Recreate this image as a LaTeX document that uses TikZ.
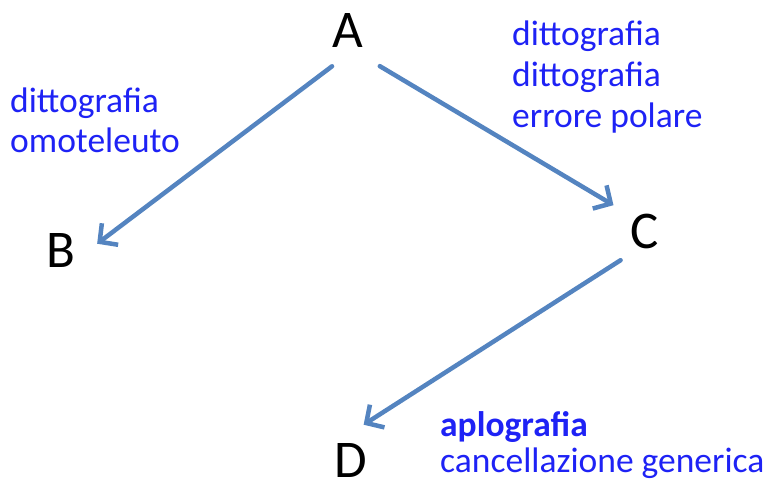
\documentclass[tikz,border=0pt]{standalone}
\usepackage{fontspec}
\setmainfont{Carlito}
\usetikzlibrary{arrows.meta}
\definecolor{arrowblue}{RGB}{84,132,192}
\definecolor{noteblue}{RGB}{30,34,245}
\tikzset{
  letter/.style={inner sep=0pt,anchor=base,font=\fontsize{53}{60}\selectfont},
  note/.style={inner sep=0pt,anchor=base west,align=left,text=noteblue,
    font=\fontsize{35.5}{41}\selectfont},
  arr/.style={line width=4.5pt,draw=arrowblue,
    -{Straight Barb[length=13pt,width=27pt,line width=4.5pt]}}
}
\begin{document}
\begin{tikzpicture}[x=1pt,y=-1pt,line cap=round,line join=round]
  \useasboundingbox (0,0) rectangle (767,483);
  \node[letter] (A) at (348,47) {A};
  \node[letter] (B) at (61,267) {B};
  \node[letter] (C) at (645,248) {C};
  \node[letter] (D) at (351,477) {D};
  % multi-line notes sit on the baseline of their last line
  \node[note,font=\fontsize{35.5}{40}\selectfont] (nB) at (10,152) {dittografia\\omoteleuto};
  \node[note] (nC) at (512,127) {dittografia\\dittografia\\errore polare};
  \node[note,font=\fontsize{35.5}{35.5}\selectfont] (nD) at (440,472)
    {\textbf{aplografia}\\cancellazione generica};
  \draw[arr,shorten <=20pt,shorten >=27pt] ([yshift=-7pt]A.south) -- ([yshift=-10pt]B.east);
  \draw[arr,shorten <=37pt,shorten >=20pt] (A.south) -- ([yshift=-2pt]C.north west);
  \draw[arr,shorten <=29pt,shorten >=15pt] ([yshift=4pt]C.south) -- ([yshift=10pt]D.north);
\end{tikzpicture}
\end{document}
